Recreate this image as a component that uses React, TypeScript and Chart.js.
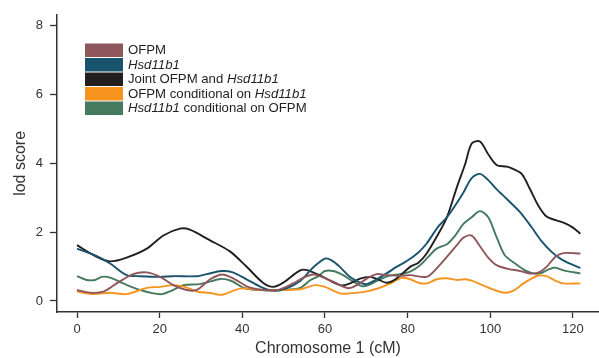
import React, { useEffect, useRef } from "react";
import { Chart, registerables } from "chart.js";

Chart.register(...registerables);

// ---- data ----
const jointX = [0, 4.8, 8, 12, 16.9, 20.9, 24.9, 27.3, 32.2, 37, 41, 45, 47.5, 50, 54, 55.9, 59.5, 63.6, 65.6, 68.5, 70.9, 72.8, 74.9, 77.3, 80.6, 82.6, 84.6, 87, 89.5, 91.9, 93.9, 95.5, 97.5, 99.5, 101.5, 104, 105.6, 107.6, 109.6, 111.6, 113.6, 116, 118, 120, 121.8];
const jointLod = [1.62, 1.28, 1.15, 1.26, 1.52, 1.9, 2.1, 2.07, 1.76, 1.44, 1.0, 0.53, 0.41, 0.54, 0.89, 0.89, 0.7, 0.46, 0.49, 0.65, 0.7, 0.63, 0.53, 0.65, 0.99, 1.11, 1.38, 1.86, 2.43, 3.3, 3.97, 4.57, 4.63, 4.26, 3.95, 3.9, 3.83, 3.69, 3.25, 2.77, 2.45, 2.34, 2.26, 2.13, 1.95];

const hsdX = [0, 4.8, 8, 12, 15.2, 20.1, 23.2, 29, 31.4, 35, 37.7, 41, 44.3, 47.5, 50.7, 54, 57.2, 60, 61.6, 63.6, 66, 68.5, 70.1, 72.5, 74.9, 77.3, 79.8, 82.6, 84.6, 87.4, 89.5, 91.5, 93.5, 95.5, 97.5, 99.5, 101.5, 104, 107.2, 110, 112.4, 114.9, 117.3, 119.7, 121.8];
const hsdLod = [1.52, 1.3, 1.09, 0.75, 0.72, 0.7, 0.72, 0.72, 0.78, 0.87, 0.83, 0.63, 0.42, 0.3, 0.37, 0.58, 0.98, 1.23, 1.18, 0.99, 0.7, 0.53, 0.49, 0.63, 0.8, 0.99, 1.16, 1.41, 1.67, 2.16, 2.43, 2.77, 3.15, 3.57, 3.69, 3.51, 3.25, 2.96, 2.58, 2.14, 1.74, 1.42, 1.2, 1.06, 0.96];

const ofpmX = [0, 3.1, 6.4, 9.6, 13.6, 16.9, 20.1, 23.3, 26.5, 29, 32.2, 35.2, 38.2, 41.5, 45, 48.7, 52.3, 54.8, 57.2, 58.8, 62, 65.6, 67.7, 70.1, 72.5, 74.9, 78.2, 80.6, 84.6, 86.6, 89.5, 91.9, 93.5, 95.5, 97.5, 99.5, 101.5, 104, 107.2, 109.6, 111.6, 113.6, 115.7, 117.7, 121.8];
const ofpmLod = [0.32, 0.24, 0.27, 0.51, 0.78, 0.83, 0.7, 0.46, 0.32, 0.32, 0.63, 0.77, 0.63, 0.4, 0.32, 0.32, 0.51, 0.68, 0.77, 0.72, 0.56, 0.37, 0.46, 0.65, 0.78, 0.75, 0.73, 0.75, 0.7, 0.89, 1.28, 1.62, 1.84, 1.9, 1.59, 1.26, 1.04, 0.94, 0.87, 0.8, 0.82, 0.99, 1.28, 1.39, 1.38];

const hsdCondX = [0, 2.3, 4.4, 6, 8, 11.2, 15.2, 18.5, 20.5, 23.3, 25.7, 29.8, 34.8, 37.4, 40.6, 44.3, 49.5, 54, 56.4, 58.4, 60, 62, 64.4, 66.9, 68.9, 70.5, 73.3, 75.7, 78.2, 80.6, 83, 85, 87, 89.5, 91.5, 93.5, 95.5, 97.5, 99.5, 101.5, 103.5, 106, 108.4, 110.4, 112, 114, 115.7, 117.7, 121.8];
const hsdCondLod = [0.72, 0.61, 0.61, 0.7, 0.68, 0.51, 0.32, 0.22, 0.2, 0.32, 0.46, 0.49, 0.64, 0.58, 0.37, 0.32, 0.32, 0.38, 0.6, 0.72, 0.87, 0.87, 0.75, 0.56, 0.43, 0.46, 0.63, 0.74, 0.78, 0.85, 1.04, 1.28, 1.52, 1.65, 1.9, 2.24, 2.43, 2.61, 2.43, 1.86, 1.33, 1.09, 0.89, 0.8, 0.8, 0.91, 0.97, 0.89, 0.8];

const ofpmCondX = [0, 3.9, 8, 12, 16.9, 20.1, 23.3, 26.1, 29.4, 31.8, 35, 39.4, 42.7, 45.9, 54, 57.6, 60, 63.6, 66, 70.1, 72.9, 75.3, 78.6, 80.6, 82.6, 84.6, 87, 89.5, 91.9, 93.9, 95.5, 97.5, 99.9, 103.5, 105.6, 108, 110.4, 111.6, 113.6, 115.7, 117.7, 121.8];
const ofpmCondLod = [0.27, 0.2, 0.24, 0.2, 0.38, 0.41, 0.46, 0.41, 0.26, 0.24, 0.18, 0.36, 0.34, 0.32, 0.34, 0.46, 0.41, 0.22, 0.22, 0.28, 0.37, 0.48, 0.67, 0.63, 0.53, 0.51, 0.63, 0.66, 0.61, 0.63, 0.59, 0.49, 0.37, 0.24, 0.3, 0.51, 0.68, 0.74, 0.72, 0.59, 0.51, 0.51];

const xTickValues = [0, 20, 40, 60, 80, 100, 120];
const yTickValues = [0, 2, 4, 6, 8];

// legend labels: [text, italic]
const labelOfpm: [string, boolean][] = [["OFPM", false]];
const labelHsd: [string, boolean][] = [["Hsd11b1", true]];
const labelJoint: [string, boolean][] = [["Joint OFPM and ", false], ["Hsd11b1", true]];
const labelOfpmCond: [string, boolean][] = [["OFPM conditional on ", false], ["Hsd11b1", true]];
const labelHsdCond: [string, boolean][] = [["Hsd11b1", true], [" conditional on OFPM", false]];

const COLORS = {
  ofpm: "#8f565b",
  hsd: "#1a536e",
  joint: "#231f20",
  ofpmCond: "#f7941d",
  hsdCond: "#467a5e",
};

const FONT = "'Liberation Sans', Arial, Helvetica, sans-serif";

function pts(xs: number[], ys: number[]) {
  return xs.map((x, i) => ({ x, y: ys[i] }));
}

const legendPlugin = {
  id: "customLegend",
  afterDraw(chart: any) {
    const ctx = chart.ctx;
    const items = chart.data.datasets.map((d: any) => ({ color: d.borderColor, parts: d.legendParts }));
    const x0 = 85;
    const y0 = 43.5;
    const step = 14.5;
    const bw = 38;
    const bh = 13.5;
    ctx.save();
    items.forEach((it: any, row: number) => {
      const top = y0 + row * step;
      ctx.fillStyle = it.color;
      ctx.fillRect(x0, top, bw, bh);
      let tx = x0 + bw + 5;
      const ty = top + bh / 2 + 0.5;
      ctx.textBaseline = "middle";
      ctx.textAlign = "left";
      ctx.fillStyle = "#231f20";
      it.parts.forEach(([t, italic]: [string, boolean]) => {
        ctx.font = `${italic ? "italic " : ""}13.2px ${FONT}`;
        ctx.fillText(t, tx, ty);
        tx += ctx.measureText(t).width;
      });
    });
    ctx.restore();
  },
};

export default function App() {
  const ref = useRef<HTMLCanvasElement | null>(null);

  useEffect(() => {
    document.body.style.margin = "0";
    const canvas = ref.current;
    if (!canvas) return;
    Chart.defaults.font.family = FONT;
    const mk = (label: string, xs: number[], ys: number[], color: string, parts: [string, boolean][]) => ({
      label,
      data: pts(xs, ys),
      borderColor: color,
      backgroundColor: color,
      borderWidth: 1.9,
      pointRadius: 0,
      tension: 0.3,
      fill: false,
      legendParts: parts,
    });
    const axisColor = "#333333";
    const chart = new Chart(canvas, {
      type: "line",
      data: {
        datasets: [
          mk("OFPM", ofpmX, ofpmLod, COLORS.ofpm, labelOfpm),
          mk("Hsd11b1", hsdX, hsdLod, COLORS.hsd, labelHsd),
          mk("Joint OFPM and Hsd11b1", jointX, jointLod, COLORS.joint, labelJoint),
          mk("OFPM conditional on Hsd11b1", ofpmCondX, ofpmCondLod, COLORS.ofpmCond, labelOfpmCond),
          mk("Hsd11b1 conditional on OFPM", hsdCondX, hsdCondLod, COLORS.hsdCond, labelHsdCond),
        ] as any,
      },
      options: {
        animation: false,
        responsive: false,
        layout: { padding: { top: 13, right: 0, left: 0, bottom: 0 } },
        plugins: { legend: { display: false }, tooltip: { enabled: false } },
        scales: {
          x: {
            type: "linear",
            min: -4.84,
            max: 126.3,
            afterBuildTicks: (scale: any) => {
              scale.ticks = xTickValues.map((v) => ({ value: v }));
            },
            afterFit: (scale: any) => {
              scale.height = 46;
            },
            grid: { drawOnChartArea: false, drawTicks: true, tickLength: 6, tickColor: axisColor, tickWidth: 1.3 },
            border: { display: true, color: axisColor, width: 1.5 },
            ticks: { color: "#333", font: { size: 13 }, padding: 4, maxRotation: 0, autoSkip: false },
            title: { display: true, text: "Chromosome 1 (cM)", color: "#333", font: { size: 16 }, padding: { top: 0, bottom: 0 } },
          },
          y: {
            type: "linear",
            min: -0.32,
            max: 8.31,
            afterBuildTicks: (scale: any) => {
              scale.ticks = yTickValues.map((v) => ({ value: v }));
            },
            afterFit: (scale: any) => {
              scale.width = 57;
            },
            grid: { drawOnChartArea: false, drawTicks: true, tickLength: 7, tickColor: axisColor, tickWidth: 1.3 },
            border: { display: true, color: axisColor, width: 1.5 },
            ticks: { color: "#333", font: { size: 13 }, padding: 7, autoSkip: false },
            title: { display: true, text: "lod score", color: "#333", font: { size: 16 }, padding: { top: 11, bottom: 0 } },
          },
        },
      } as any,
      plugins: [legendPlugin],
    });
    return () => chart.destroy();
  }, []);

  return (
    <div style={{ width: 599, height: 358 }}>
      <canvas ref={ref} width={599} height={358} />
    </div>
  );
}
